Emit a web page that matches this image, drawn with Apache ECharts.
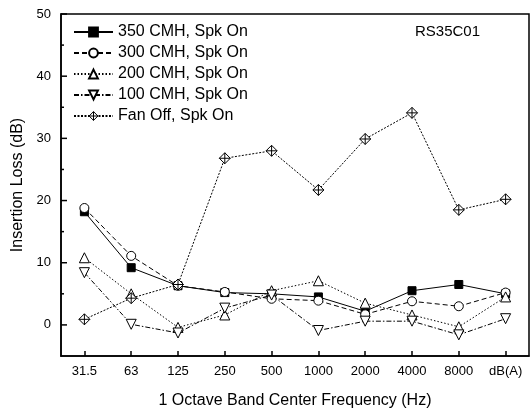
<!DOCTYPE html>
<html>
<head>
<meta charset="utf-8">
<script src="https://cdn.jsdelivr.net/npm/echarts@6/dist/echarts.min.js"></script>
<style>
  html, body { margin: 0; padding: 0; background: #fff; }
  #chart { width: 531px; height: 414px; }
</style>
</head>
<body>
<div id="chart"></div>
<script>
const categories = ['31.5', '63', '125', '250', '500', '1000', '2000', '4000', '8000', 'dB(A)']
const seriesNames = ['350 CMH, Spk On', '300 CMH, Spk On', '200 CMH, Spk On', '100 CMH, Spk On', 'Fan Off, Spk On']
const cmh350 = [18.2, 9.2, 6.3, 5.2, 5.0, 4.5, 2.2, 5.5, 6.5, 5.0]
const cmh300 = [18.8, 11.1, 6.3, 5.3, 4.2, 3.9, 1.7, 3.8, 3.0, 5.2]
const cmh200 = [10.8, 5.0, -0.4, 1.6, 5.5, 7.1, 3.5, 1.6, -0.3, 4.5]
const cmh100 = [8.4, 0.1, -1.3, 2.7, 4.8, -0.9, 0.6, 0.6, -1.6, 1.0]
const fanOff = [0.9, 4.3, 6.5, 26.8, 28.0, 21.7, 29.9, 34.1, 18.5, 20.2]
const yTicks = [0, 10, 20, 30, 40, 50]
const yMinorTicks = [5, 15, 25, 35, 45]

const font = 'Liberation Sans, Arial, sans-serif'
// diamond with a cross inside, drawn open
const plusDiamond = 'path://M0,-10 L10,0 L0,10 L-10,0 Z M0,-10 L0,10 M-10,0 L10,0'
const openStyle = { color: '#fff', borderColor: '#000', borderWidth: 1 }
const gridLeft = 61
const gridTop = 14
const gridBottom = 52
const yMin = -5
const yMax = 50

function makeSeries(name, data, symbol, size, dash, filled) {
  return {
    name: name,
    type: 'line',
    data: data,
    symbol: symbol,
    symbolSize: size,
    showAllSymbol: true,
    itemStyle: {
      color: filled ? '#000' : '#fff',
      borderColor: '#000',
      borderWidth: 1
    },
    lineStyle: { color: '#000', width: 1, type: dash },
    emphasis: { disabled: true }
  }
}

const label = {
  type: 'text',
  left: 415,
  top: 24,
  style: { text: 'RS35C01', fontFamily: font, fontSize: 15, fill: '#000' }
}

const chart = echarts.init(document.getElementById('chart'))
chart.setOption({
  animation: false,
  backgroundColor: '#fff',
  grid: {
    left: gridLeft,
    right: 2,
    top: gridTop,
    bottom: gridBottom,
    show: true,
    borderColor: '#000',
    borderWidth: 1.5,
    backgroundColor: 'transparent'
  },
  legend: {
    orient: 'vertical',
    left: 68,
    top: 19,
    itemWidth: 39,
    itemHeight: 11,
    itemGap: 5,
    textStyle: { fontFamily: font, fontSize: 16, color: '#000' },
    data: seriesNames.map((n, i) => (i === 4 ? { name: n, itemStyle: openStyle } : n))
  },
  graphic: [label],
  xAxis: {
    type: 'category',
    data: categories,
    boundaryGap: true,
    name: '1 Octave Band Center Frequency (Hz)',
    nameLocation: 'middle',
    nameGap: 37,
    nameTextStyle: { fontFamily: font, fontSize: 16, color: '#000' },
    axisLine: { onZero: false, lineStyle: { color: '#000', width: 1.5 } },
    axisTick: { show: true, inside: true, alignWithLabel: true, length: 5, lineStyle: { color: '#000', width: 1.5 } },
    axisLabel: { fontFamily: font, fontSize: 13, color: '#000', margin: 9 },
    splitLine: { show: false }
  },
  yAxis: {
    type: 'value',
    min: yMin,
    max: yMax,
    interval: 5,
    name: 'Insertion Loss (dB)',
    nameLocation: 'middle',
    nameGap: 32,
    nameTextStyle: { fontFamily: font, fontSize: 16, color: '#000' },
    axisLine: { show: true, onZero: false, lineStyle: { color: '#000', width: 1.5 } },
    axisTick: { show: false },
    axisLabel: {
      fontFamily: font, fontSize: 13, color: '#000', margin: 10,
      formatter: v => (yTicks.indexOf(v) >= 0 ? String(v) : '')
    },
    splitLine: { show: false }
  },
  series: [
    makeSeries(seriesNames[0], cmh350, 'rect', 8, 'solid', true),
    makeSeries(seriesNames[1], cmh300, 'circle', 9, [5, 3], false),
    makeSeries(seriesNames[2], cmh200, 'triangle', 10, [1.5, 2], false),
    Object.assign(makeSeries(seriesNames[3], cmh100, 'triangle', 10, [5, 2, 1.5, 2], false), { symbolRotate: 180 }),
    makeSeries(seriesNames[4], fanOff, plusDiamond, 11, [2, 1.5], false)
  ]
})

// inward y ticks at the axis's own pixel positions
function tickY(v) {
  let p = chart.convertToPixel({ gridIndex: 0 }, [0, v])
  let y = Array.isArray(p) ? p[1] : p
  if (typeof y !== 'number' || isNaN(y)) {
    const h = chart.getHeight() - gridTop - gridBottom
    y = gridTop + (yMax - v) / (yMax - yMin) * h
  }
  return y
}
function tickLine(v, len) {
  const y = tickY(v)
  return {
    type: 'line',
    z: 100,
    shape: { x1: gridLeft, y1: y, x2: gridLeft + len, y2: y },
    style: { stroke: '#000', lineWidth: 1.5 }
  }
}
const ticks = yTicks.map(v => tickLine(v, 6)).concat(yMinorTicks.map(v => tickLine(v, 3)))
chart.setOption({ graphic: { elements: [label].concat(ticks) } })
</script>
</body>
</html>
